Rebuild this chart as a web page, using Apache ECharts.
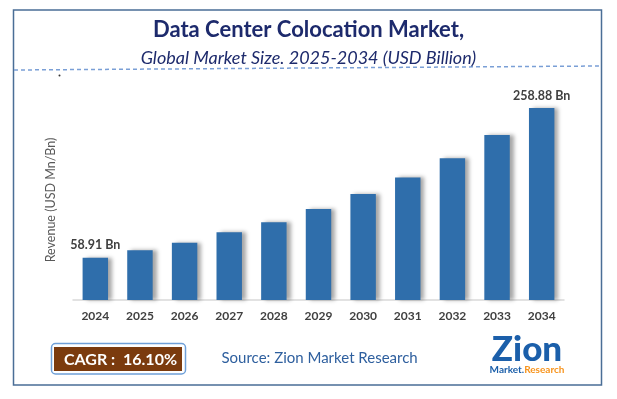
<!DOCTYPE html>
<html>
<head>
<meta charset="utf-8">
<script src="https://cdn.jsdelivr.net/npm/echarts@6/dist/echarts.min.js"></script>
<style>
  html, body { margin: 0; padding: 0; background: #fff; }
  #chart { width: 617px; height: 399px; }
</style>
</head>
<body>
<div id="chart"></div>
<script>
// chart data
const years = ['2024', '2025', '2026', '2027', '2028', '2029', '2030', '2031', '2032', '2033', '2034'];
const revenue = [58.91, 68.8, 78.9, 92.9, 106.2, 124.0, 144.0, 166.1, 191.7, 222.8, 258.88];
const labelled = [0, 10]; // only first and last bars carry a value label
const cagrText = 'CAGR :  16.10%';
const sourceText = 'Source: Zion Market Research';

const chart = echarts.init(document.getElementById('chart'));

const barData = revenue.map((v, i) => ({
  value: v,
  label: { show: labelled.indexOf(i) !== -1 }
}));

const option = {
  backgroundColor: '#fff',
  animation: false,
  title: {
    text: 'Data Center Colocation Market,',
    subtext: 'Global Market Size. 2025-2034 (USD Billion)',
    left: 'center',
    top: 14,
    itemGap: 8,
    textStyle: {
      fontFamily: 'Lato',
      fontWeight: 'bold',
      fontSize: 22,
      color: '#1d2a6c'
    },
    subtextStyle: {
      fontFamily: 'Lato',
      fontStyle: 'italic',
      fontSize: 18,
      color: '#1d2a6c'
    }
  },
  grid: {
    left: 73,
    right: 53,
    top: 100,
    bottom: 99
  },
  xAxis: {
    type: 'category',
    data: years,
    axisTick: { show: false },
    axisLine: { lineStyle: { color: '#d9d9d9', width: 1.5 } },
    axisLabel: {
      margin: 10,
      fontFamily: 'Lato',
      fontWeight: 'bold',
      fontSize: 12,
      color: '#404040'
    }
  },
  yAxis: {
    type: 'value',
    min: 2.4,
    max: 269.6,
    name: 'Revenue (USD Mn/Bn)',
    nameLocation: 'middle',
    nameGap: 16,
    nameTextStyle: { fontFamily: 'Lato', fontSize: 12.5, color: '#595959' },
    axisLine: { show: false },
    axisTick: { show: false },
    axisLabel: { show: false },
    splitLine: { show: false }
  },
  series: [
    {
      type: 'bar',
      data: barData,
      barWidth: '57%',
      itemStyle: {
        color: '#2f6eab',
        shadowColor: 'rgba(0,0,0,0.35)',
        shadowBlur: 4,
        shadowOffsetX: 4
      },
      label: {
        position: 'top',
        distance: 6,
        formatter: (p) => p.value + ' Bn',
        fontFamily: 'Lato',
        fontWeight: 'bold',
        fontSize: 12.5,
        color: '#404040'
      }
    }
  ],
  graphic: [
    // outer frame
    {
      type: 'rect',
      shape: { x: 13.5, y: 10, width: 588, height: 375 },
      style: { fill: 'none', stroke: '#4a6e96', lineWidth: 1.5 },
      silent: true
    },
    // dashed separator under the title
    {
      type: 'line',
      shape: { x1: 14, y1: 70, x2: 601, y2: 66 },
      style: { stroke: '#7a9fd6', lineWidth: 1.5, lineDash: [4, 3] },
      silent: true
    },
    {
      type: 'circle',
      shape: { cx: 59.5, cy: 75.5, r: 1 },
      style: { fill: '#333' },
      silent: true
    },
    // CAGR badge
    {
      type: 'rect',
      shape: { x: 51.5, y: 343.5, width: 134, height: 30.5, r: 4 },
      style: { fill: '#fff', stroke: '#6fa0d8', lineWidth: 1.5 },
      silent: true
    },
    {
      type: 'rect',
      shape: { x: 54, y: 347, width: 128, height: 24 },
      style: { fill: '#7b3b0e' },
      silent: true
    },
    {
      type: 'text',
      x: 120.5,
      y: 359.5,
      style: {
        text: cagrText,
        fill: '#fff',
        font: 'bold 16px Lato',
        align: 'center',
        verticalAlign: 'middle'
      },
      silent: true
    },
    {
      type: 'text',
      x: 221.5,
      y: 358.5,
      style: {
        text: sourceText,
        fill: '#2e5f9e',
        font: '15px Lato',
        align: 'left',
        verticalAlign: 'middle'
      },
      silent: true
    },
    // logo
    {
      type: 'text',
      x: 527,
      y: 350,
      style: {
        text: 'Zion',
        fill: '#1b5faa',
        font: '900 35px Lato',
        align: 'center',
        verticalAlign: 'middle'
      },
      silent: true
    },
    {
      type: 'text',
      x: 527,
      y: 370,
      style: {
        text: '{a|Market.}{b|Research}',
        align: 'center',
        verticalAlign: 'middle',
        rich: {
          a: { fill: '#1b5faa', font: 'bold 10px Lato' },
          b: { fill: '#f7941d', font: 'bold 10px Lato' }
        }
      },
      silent: true
    }
  ]
};

chart.setOption(option);
</script>
</body>
</html>
